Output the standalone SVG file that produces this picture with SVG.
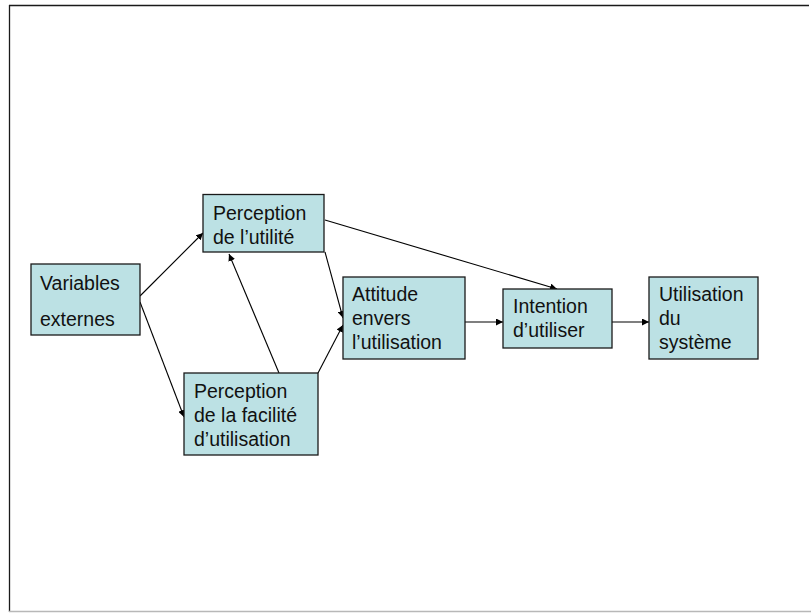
<svg xmlns="http://www.w3.org/2000/svg" width="811" height="613" viewBox="0 0 811 613">
  <defs>
    <marker id="arrow" viewBox="0 0 10 10" refX="10" refY="5" markerWidth="7" markerHeight="7" markerUnits="userSpaceOnUse" orient="auto">
      <path d="M0,0 L10,5 L0,10 z" fill="#000"/>
    </marker>
    <style>
      .box { fill: #bce1e4; stroke: #1a1a1a; stroke-width: 1.3; }
      .lbl { font-family: "Liberation Sans", Arial, sans-serif; font-size: 19.5px; fill: #111; }
      .edge { stroke: #000; stroke-width: 1.1; fill: none; marker-end: url(#arrow); }
    </style>
  </defs>

  <rect width="811" height="613" fill="#fff"/>

  <!-- page frame -->
  <g id="frame">
    <line x1="9" y1="5.5" x2="809" y2="5.5" stroke="#1a1a1a" stroke-width="1.3"/>
    <line x1="9.5" y1="5" x2="9.5" y2="612" stroke="#1a1a1a" stroke-width="1.3"/>
    <line x1="9" y1="611.5" x2="811" y2="611.5" stroke="#b8b8b8" stroke-width="1.5"/>
  </g>

  <!-- connectors -->
  <g id="connectors">
    <line class="edge" x1="140" y1="296" x2="203" y2="233"/>
    <line class="edge" x1="140" y1="302" x2="184" y2="417"/>
    <line class="edge" x1="279" y1="373" x2="229" y2="254"/>
    <line class="edge" x1="325" y1="252" x2="343" y2="318"/>
    <line class="edge" x1="318" y1="373" x2="343" y2="325"/>
    <line class="edge" x1="325" y1="220" x2="557" y2="289"/>
    <line class="edge" x1="465" y1="322" x2="503" y2="322"/>
    <line class="edge" x1="612" y1="322" x2="649" y2="322"/>
  </g>

  <g id="variables-externes">
    <rect class="box" x="31" y="264" width="109" height="71"/>
    <text class="lbl" x="40" y="290">Variables</text>
    <text class="lbl" x="40" y="326">externes</text>
  </g>

  <g id="perception-utilite">
    <rect class="box" x="203" y="194.5" width="121" height="57.5"/>
    <text class="lbl" x="213" y="220">Perception</text>
    <text class="lbl" x="213" y="244">de l’utilité</text>
  </g>

  <g id="perception-facilite">
    <rect class="box" x="184" y="373" width="134" height="82"/>
    <text class="lbl" x="194" y="398">Perception</text>
    <text class="lbl" x="194" y="422">de la facilité</text>
    <text class="lbl" x="194" y="446">d’utilisation</text>
  </g>

  <g id="attitude">
    <rect class="box" x="343" y="277" width="122" height="82"/>
    <text class="lbl" x="352" y="301">Attitude</text>
    <text class="lbl" x="352" y="325">envers</text>
    <text class="lbl" x="352" y="349">l’utilisation</text>
  </g>

  <g id="intention">
    <rect class="box" x="503" y="289" width="109" height="59"/>
    <text class="lbl" x="513" y="313">Intention</text>
    <text class="lbl" x="513" y="337">d’utiliser</text>
  </g>

  <g id="utilisation-systeme">
    <rect class="box" x="649" y="277" width="109" height="82"/>
    <text class="lbl" x="659" y="301">Utilisation</text>
    <text class="lbl" x="659" y="325">du</text>
    <text class="lbl" x="659" y="349">système</text>
  </g>
</svg>
